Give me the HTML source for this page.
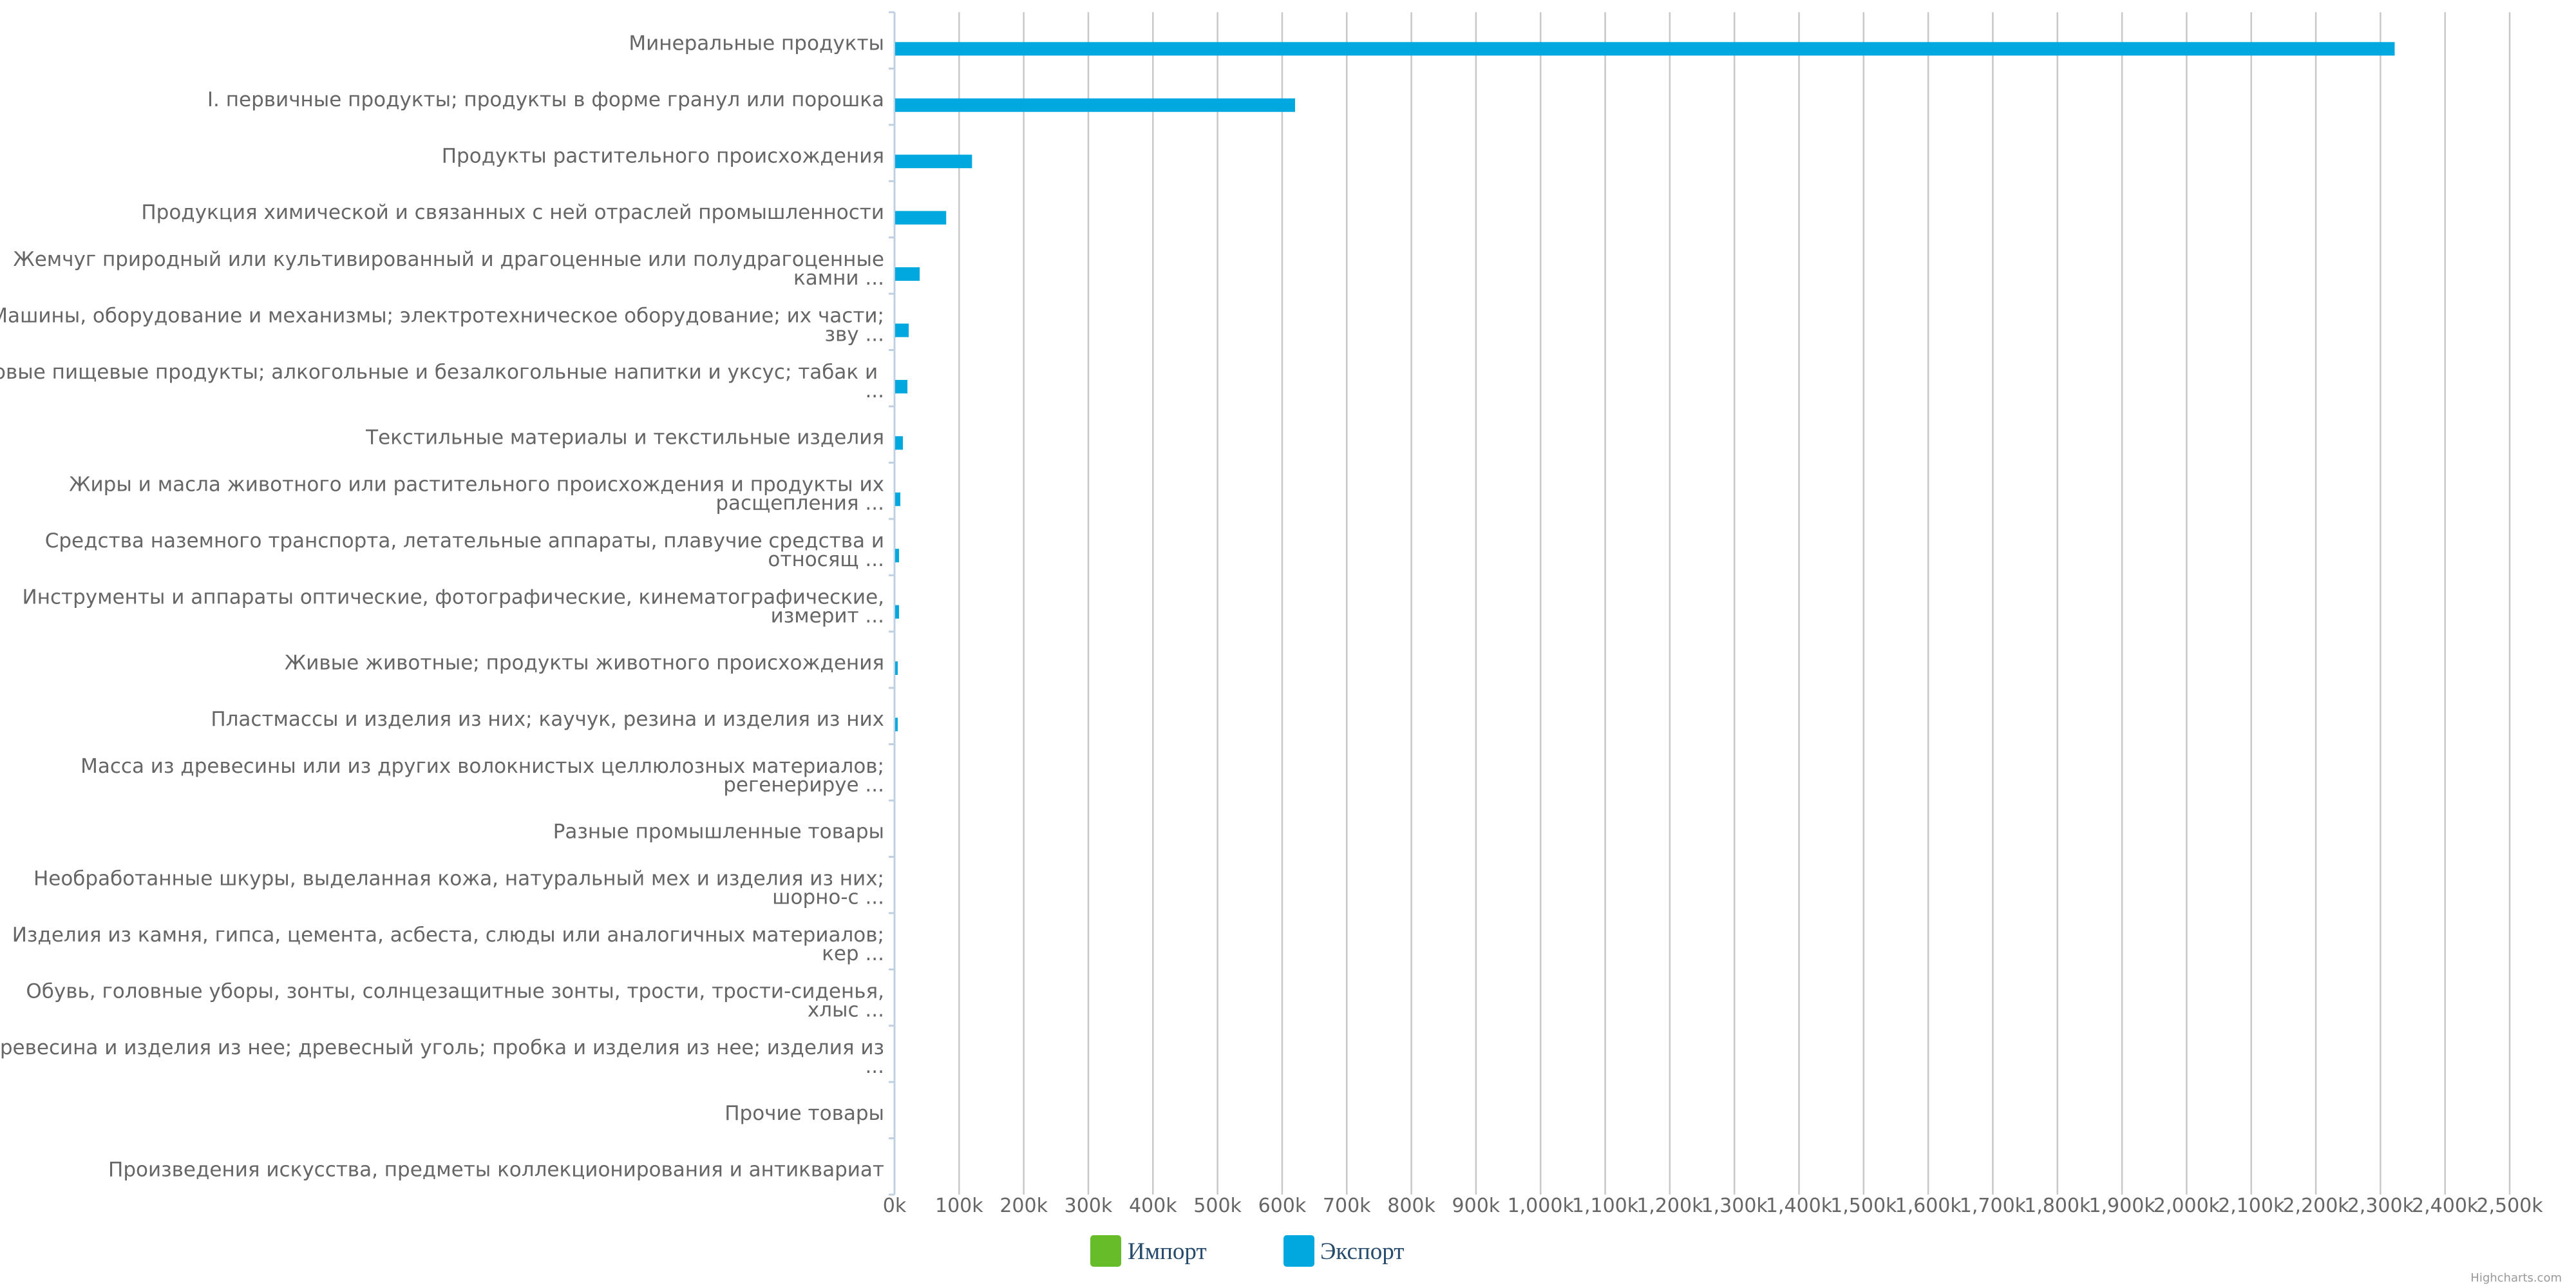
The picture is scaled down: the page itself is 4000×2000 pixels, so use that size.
<!DOCTYPE html>
<html><head><meta charset="utf-8"><style>
html,body{margin:0;padding:0;background:#fff;width:4000px;height:2000px;overflow:hidden}
svg{display:block}
</style></head><body>
<svg id="chart" width="4000" height="2000" xmlns="http://www.w3.org/2000/svg">
<rect x="0" y="0" width="4000" height="2000" fill="#ffffff"/>
<g id="grid"></g>
<g id="xlabels"></g>
<g id="ylabels"></g>
<g id="yaxis"></g>
<g id="bars"></g>
<g>
  <g>
    <rect x="1693" y="1918" width="48" height="49" rx="5" fill="#67bc2a"/>
    <text x="1751" y="1955" font-family="'Liberation Serif','DejaVu Serif',serif" font-size="37" fill="#274b6d">Импорт</text>
  </g>
  <g>
    <rect x="1993" y="1918" width="48" height="49" rx="5" fill="#00a8e0"/>
    <text x="2050" y="1955" font-family="'Liberation Serif','DejaVu Serif',serif" font-size="37" fill="#274b6d">Экспорт</text>
  </g>
</g>
<text x="3978" y="1990" text-anchor="end" font-family="'DejaVu Sans',sans-serif" font-size="18" fill="#999">Highcharts.com</text>
</svg>
<script>
const categories = [
 ["Минеральные продукты"],
 ["I. первичные продукты; продукты в форме гранул или порошка"],
 ["Продукты растительного происхождения"],
 ["Продукция химической и связанных с ней отраслей промышленности"],
 ["Жемчуг природный или культивированный и драгоценные или полудрагоценные","камни ..."],
 ["Машины, оборудование и механизмы; электротехническое оборудование; их части;","зву ..."],
 ["Готовые пищевые продукты; алкогольные и безалкогольные напитки и уксус; табак и\u00a0","..."],
 ["Текстильные материалы и текстильные изделия"],
 ["Жиры и масла животного или растительного происхождения и продукты их","расщепления ..."],
 ["Средства наземного транспорта, летательные аппараты, плавучие средства и","относящ ..."],
 ["Инструменты и аппараты оптические, фотографические, кинематографические,","измерит ..."],
 ["Живые животные; продукты животного происхождения"],
 ["Пластмассы и изделия из них; каучук, резина и изделия из них"],
 ["Масса из древесины или из других волокнистых целлюлозных материалов;","регенерируе ..."],
 ["Разные промышленные товары"],
 ["Необработанные шкуры, выделанная кожа, натуральный мех и изделия из них;","шорно-с ..."],
 ["Изделия из камня, гипса, цемента, асбеста, слюды или аналогичных материалов;","кер ..."],
 ["Обувь, головные уборы, зонты, солнцезащитные зонты, трости, трости-сиденья,","хлыс ..."],
 ["Древесина и изделия из нее; древесный уголь; пробка и изделия из нее; изделия из","..."],
 ["Прочие товары"],
 ["Произведения искусства, предметы коллекционирования и антиквариат"]
];
const importValues = [0,0,0,0,0,0,0,0,0,0,0,0,0,0,0,0,0,0,0,0,0];
const exportValues = [2321000,619000,119000,79000,38000,21000,19000,12000,8000,6000,6000,4000,4000,0,0,0,0,0,0,0,0];
const xTicks = [0,100000,200000,300000,400000,500000,600000,700000,800000,900000,1000000,1100000,1200000,1300000,1400000,1500000,1600000,1700000,1800000,1900000,2000000,2100000,2200000,2300000,2400000,2500000];
const xTickLabels = ["0k","100k","200k","300k","400k","500k","600k","700k","800k","900k","1,000k","1,100k","1,200k","1,300k","1,400k","1,500k","1,600k","1,700k","1,800k","1,900k","2,000k","2,100k","2,200k","2,300k","2,400k","2,500k"];

const NS="http://www.w3.org/2000/svg";
const L=1389,R=3897,T=19,B=1855,XMAX=2500000;
const band=(B-T)/categories.length;
const xs=v=>L+(v/XMAX)*(R-L);
const bandTop=i=>T+i*band;
function mk(tag,attrs,parent){const e=document.createElementNS(NS,tag);for(const k in attrs)e.setAttribute(k,attrs[k]);parent.appendChild(e);return e;}
const grid=document.getElementById('grid'),xl=document.getElementById('xlabels'),yl=document.getElementById('ylabels'),ya=document.getElementById('yaxis'),bars=document.getElementById('bars');
xTicks.forEach((t,i)=>{
  const x=xs(t);
  if(i>0){const g=mk('line',{x1:x,x2:x,y1:T,y2:B,stroke:'#c8c8c8','stroke-width':2.5},grid);
  
  }
  const tx=mk('text',{x:x,y:1882,'text-anchor':'middle','font-family':"'DejaVu Sans',sans-serif",'font-size':30,fill:'#666'},xl);
  tx.textContent=xTickLabels[i];
  
  
});
const ax=mk('line',{x1:L,x2:L,y1:T,y2:B,stroke:'#c0d0e0','stroke-width':3},ya);


for(let i=0;i<=categories.length;i++){
  const y=bandTop(i);
  const tk=mk('line',{x1:L-9,x2:L,y1:y,y2:y,stroke:'#c0d0e0','stroke-width':3},ya);
  
  
}
categories.forEach((lines,i)=>{
  const c=bandTop(i)+band/2;
  const t=mk('text',{'text-anchor':'end','font-family':"'DejaVu Sans',sans-serif",'font-size':31,fill:'#666'},yl);
  
  
  const y0=c+15-(lines.length-1)*14.5;
  lines.forEach((s,j)=>{const sp=mk('tspan',{x:1373,y:y0+j*29},t);sp.textContent=s;});
});
const slot=band*0.6/2, pw=slot*0.8;
exportValues.forEach((v,i)=>{
  const c=bandTop(i)+band/2+slot/2;
  const w=xs(v)-xs(0);
  if(w<=0)return;
  const r=mk('rect',{x:xs(0)+1,y:c-pw/2,width:w,height:pw,fill:'#00a8e0'},bars);
  
  
});
importValues.forEach((v,i)=>{
  const c=bandTop(i)+band/2-slot/2;
  const w=xs(v)-xs(0);
  if(w<=0)return;
  const r=mk('rect',{x:xs(0)+1,y:c-pw/2,width:w,height:pw,fill:'#67bc2a'},bars);
  
  
});
</script>
</body></html>
